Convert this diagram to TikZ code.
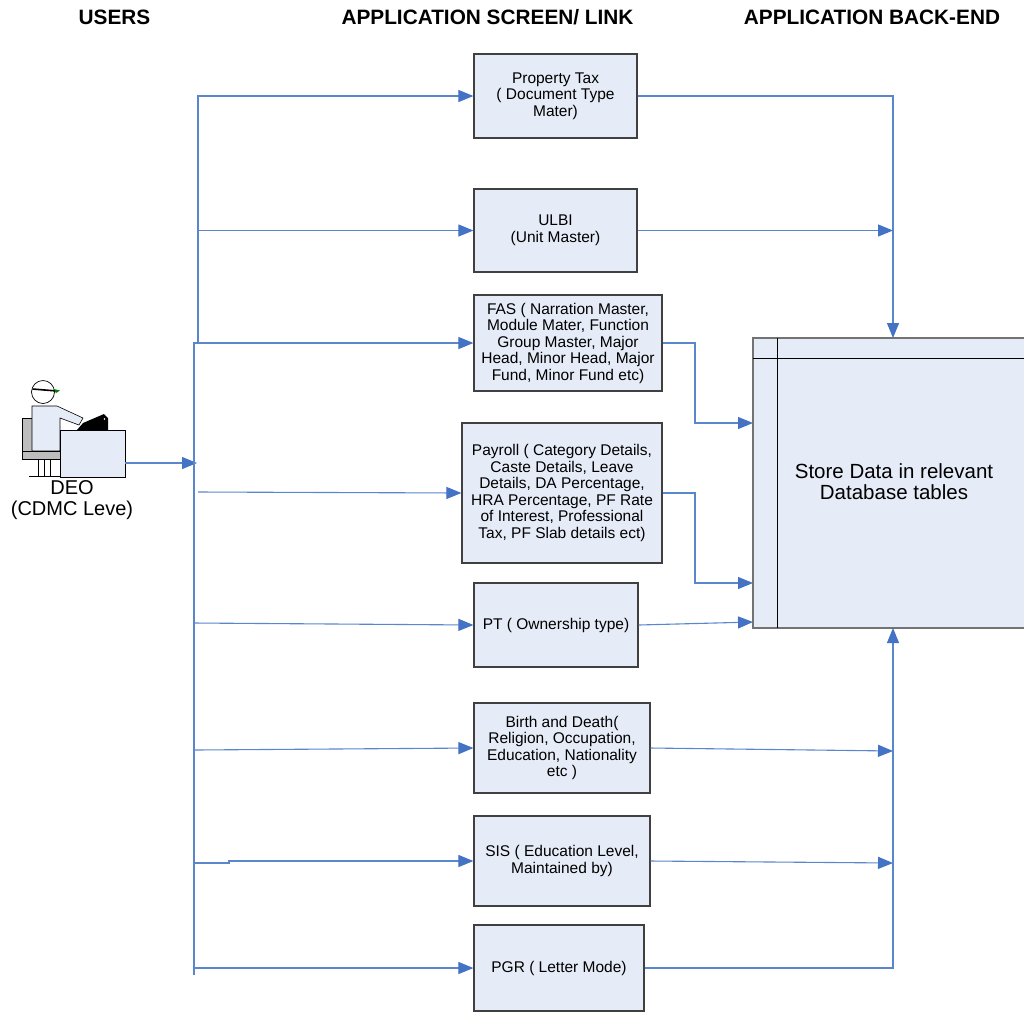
\documentclass[tikz,border=0pt]{standalone}
\usepackage{fontspec}
\setmainfont{Liberation Sans}
\usetikzlibrary{arrows.meta}
\definecolor{linkblue}{HTML}{5A86CC}
\definecolor{tipblue}{HTML}{4472C4}
\definecolor{boxfill}{HTML}{E6ECF7}
\definecolor{boxline}{HTML}{404040}
\definecolor{chairgray}{HTML}{BDBDBD}
\tikzset{
  screen/.style={draw=boxline, line width=1.2pt, fill=boxfill, align=center,
    inner sep=2pt, font=\fontsize{15.5}{16.5}\selectfont},
  header/.style={font=\fontsize{20.8}{22}\selectfont\bfseries},
  link/.style={draw=linkblue, line width=1.1pt,
    -{Triangle[length=15pt,width=12pt,color=tipblue,fill=tipblue]}},
}
\begin{document}
\begin{tikzpicture}[x=1pt,y=-1pt]
\useasboundingbox (0,0) rectangle (1024,1013);
\clip (0,0) rectangle (1024,1013);

% column headers
\node[header] (hUsers) at (114.5,17) {USERS};
\node[header] (hScreen) at (487.5,17) {APPLICATION SCREEN/ LINK};
\node[header] (hBack) at (872,17) {APPLICATION BACK-END};

% database store
\node[draw=gray!90!black, line width=1.5pt, fill=boxfill, minimum width=280pt,
  minimum height=290pt, inner sep=0pt] (db) at (893,483) {};
\draw[black, line width=1pt] (777,338) -- (777,628);
\draw[black, line width=1pt] (753,358) -- (1030,358);
\node[align=center, font=\fontsize{20.5}{21}\selectfont] (dbtext) at (894,482)
  {Store Data in relevant\\Database tables};

% screens / links
\node[screen, minimum width=163pt, minimum height=84pt] (ptax) at (555.5,96)
  {Property Tax\\( Document Type\\Mater)};
\node[screen, minimum width=163pt, minimum height=83pt] (ulbi) at (555.5,230.5)
  {ULBI\\(Unit Master)};
\node[screen, minimum width=188pt, minimum height=96pt] (fas) at (568,343)
  {FAS ( Narration Master,\\Module Mater, Function\\Group Master, Major\\Head, Minor Head, Major\\Fund, Minor Fund etc)};
\node[screen, minimum width=200pt, minimum height=140pt] (pay) at (562,493)
  {Payroll ( Category Details,\\Caste Details, Leave\\Details, DA Percentage,\\HRA Percentage, PF Rate\\of Interest, Professional\\Tax, PF Slab details ect)};
\node[screen, minimum width=164pt, minimum height=84pt] (pto) at (556,625)
  {PT ( Ownership type)};
\node[screen, minimum width=176pt, minimum height=90pt] (bnd) at (562,748)
  {Birth and Death(\\Religion, Occupation,\\Education, Nationality\\etc )};
\node[screen, minimum width=176pt, minimum height=90pt] (sis) at (562,861)
  {SIS ( Education Level,\\Maintained by)};
\node[screen, minimum width=170pt, minimum height=86pt] (pgr) at (559,968)
  {PGR ( Letter Mode)};

% user at desk
\fill[chairgray, draw=black, line width=0.5pt] (22,418) rectangle (32,451);
\fill[boxfill, draw=black, line width=0.6pt] (32,406) -- (57,406) -- (83,418)
  -- (79,425) -- (60,418) -- (60,451) -- (32,451) -- cycle;
\fill[chairgray, draw=black, line width=0.5pt] (22,451) rectangle (62,459);
\draw[fill=white, line width=0.6pt] (38,459) rectangle (44,476);
\draw[fill=white, line width=0.6pt] (44,459) rectangle (50,476);
\draw[line width=0.8pt] (29,476) -- (60,476);
\draw[fill=white, line width=0.7pt] (43,392) circle (11.5);
\draw[line width=1.6pt] (32.5,389) -- (57,391);
\fill[green!50!black] (54,389) -- (60,390.5) -- (56,393) -- cycle;
\node[draw=black, line width=0.7pt, fill=boxfill, minimum width=65pt,
  minimum height=47pt, inner sep=0pt] (desk) at (92.5,453.5) {};
\fill[black] (77,430) -- (83,423) -- (104,414) -- (108,418) -- (108,430) -- cycle;
\fill[white] (104.5,419) circle (0.9);
\node[align=center, font=\fontsize{20}{21}\selectfont] (deo) at (72,500)
  {DEO\\(CDMC Leve)};
\coordinate (deoout) at (125,463);
\coordinate (deoin) at (197,463);
\draw[link] (deoout) -- (deoin);

% distribution trunks on the left
\coordinate (upTop) at (198,96);
\coordinate (upBot) at (198,343);
\coordinate (loTop) at (194,343);
\coordinate (loBot) at (194,975);
\draw[link] (upBot) -- (upTop) -- (ptax.west);
\draw[link] (198,230.5) -- (ulbi.west);
\draw[link] (loBot) -- (loTop) -- (fas.west);
\draw[link] (198,492) -- (pay.west);
\draw[link] (194,623) -- (pto.west);
\draw[link] (194,750) -- (bnd.west);
\draw[link] (194,863) -- (229,863) -- (229,861) -- (sis.west);
\draw[link] (194,968) -- (pgr.west);

% links into the database
\draw[link] (ptax.east) -- (893,96) -- (893,338);
\draw[link] (ulbi.east) -- (893,230.5);
\draw[link] (fas.east) -- (695,343) -- (695,423) -- (753,423);
\draw[link] (pay.east) -- (695,493) -- (695,583) -- (753,583);
\draw[link] (pto.east) -- (753,622);
\draw[link] (bnd.east) -- (893,751);
\draw[link] (sis.east) -- (893,863);
\draw[link] (pgr.east) -- (893,968) -- (893,628);
\end{tikzpicture}
\end{document}
